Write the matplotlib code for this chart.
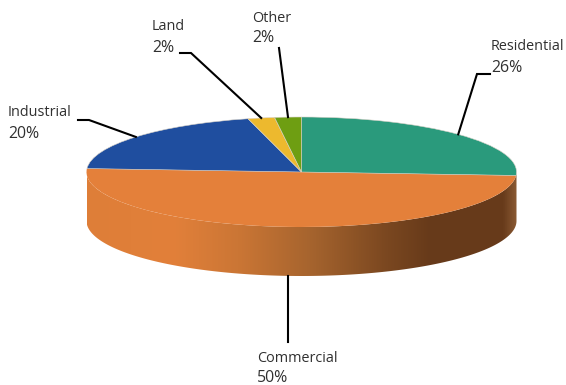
import numpy as np
import matplotlib
matplotlib.use('Agg')
import matplotlib.pyplot as plt
from matplotlib.colors import LinearSegmentedColormap
from matplotlib.patches import Polygon
from matplotlib.transforms import Affine2D

categories = ['Residential', 'Commercial', 'Industrial', 'Land', 'Other']
shares = [26, 50, 20, 2, 2]
colors = ['#2A9A7C', '#E4803A', '#1F4E9F', '#EDB92E', '#6E9E12']

W, H = 566, 385
cx, cy = 301.5, 172      # centre of top face, in pixels
rx, ry = 215, 55
depth = 49

plt.rcParams['font.family'] = ['Open Sans', 'DejaVu Sans']

fig = plt.figure(figsize=(W / 100, H / 100), dpi=100)
ax = fig.add_axes([0, 0, 1, 1])

# top face: normal pie, squashed into an ellipse
wedges, _ = ax.pie(shares, colors=colors, startangle=90, counterclock=False,
                   wedgeprops={'edgecolor': '#D8D2C8', 'linewidth': 0.4})
ax.set_aspect('auto')
ax.set_xlim(0, W)
ax.set_ylim(H, 0)
ax.axis('off')
squash = Affine2D().scale(rx, -ry).translate(cx, cy) + ax.transData
for w in wedges:
    w.set_transform(squash)
    w.set_zorder(3)
# the orange slice has no pale rim, it runs straight into the wall
wedges[1].set_edgecolor('none')
wedges[1].set_zorder(2.5)

# side wall: shaded strip under the front half of the rim
t = np.radians(np.linspace(90, 270, 200))
rim_x = cx + rx * np.sin(t)
rim_y = cy - ry * np.cos(t)
wall = np.vstack([np.column_stack([rim_x, rim_y]),
                  np.column_stack([rim_x[::-1], rim_y[::-1] + depth])])
clip = Polygon(wall, closed=True, transform=ax.transData, facecolor='none', edgecolor='none')
ax.add_patch(clip)
shade = LinearSegmentedColormap.from_list('wall', [
    (0.00, '#DE7E38'), (0.20, '#E2803A'), (0.35, '#CB7635'), (0.52, '#A6642E'),
    (0.70, '#7A4720'), (0.80, '#673A1A'), (0.97, '#683B1B'), (1.00, '#8A5A34')])
grad = ax.imshow(np.linspace(0, 1, 256)[None, :], cmap=shade, aspect='auto',
                 extent=[cx - rx, cx + rx, cy + ry + depth, cy - ry], zorder=2)
grad.set_clip_path(clip)
ax.set_xlim(0, W)
ax.set_ylim(H, 0)

# leader bends and label positions per category, in pixels
bends = {'Residential': [(477, 74), (490, 74)],
         'Commercial': [(288, 342)],
         'Industrial': [(89, 120), (78, 120)],
         'Land': [(191, 53), (180, 53)],
         'Other': [(279, 48)]}
label_xy = {'Residential': (491, 47),
            'Commercial': (257, 358),
            'Industrial': (8, 113),
            'Land': (152, 27),
            'Other': (252, 18)}

# leaders start at each slice's mid angle on the rim
ends = np.cumsum(shares)
for name, share, end in zip(categories, shares, ends):
    a = np.radians((end - share / 2) / sum(shares) * 360)
    x0 = cx + rx * np.sin(a)
    y0 = cy - ry * np.cos(a)
    if np.cos(a) < 0:
        y0 += depth
    pts = [(x0, y0)] + bends[name]
    ax.plot([p[0] for p in pts], [p[1] for p in pts], color='black', lw=1.5,
            zorder=4, solid_joinstyle='miter')
    lx, ly = label_xy[name]
    ax.text(lx, ly, name, fontsize=10.4, color='#303030', va='center', ha='left')
    ax.text(lx, ly + 20.5, '%d%%' % share, fontsize=11.4, color='#303030', va='center', ha='left')

fig.savefig('out.png', dpi=100)
